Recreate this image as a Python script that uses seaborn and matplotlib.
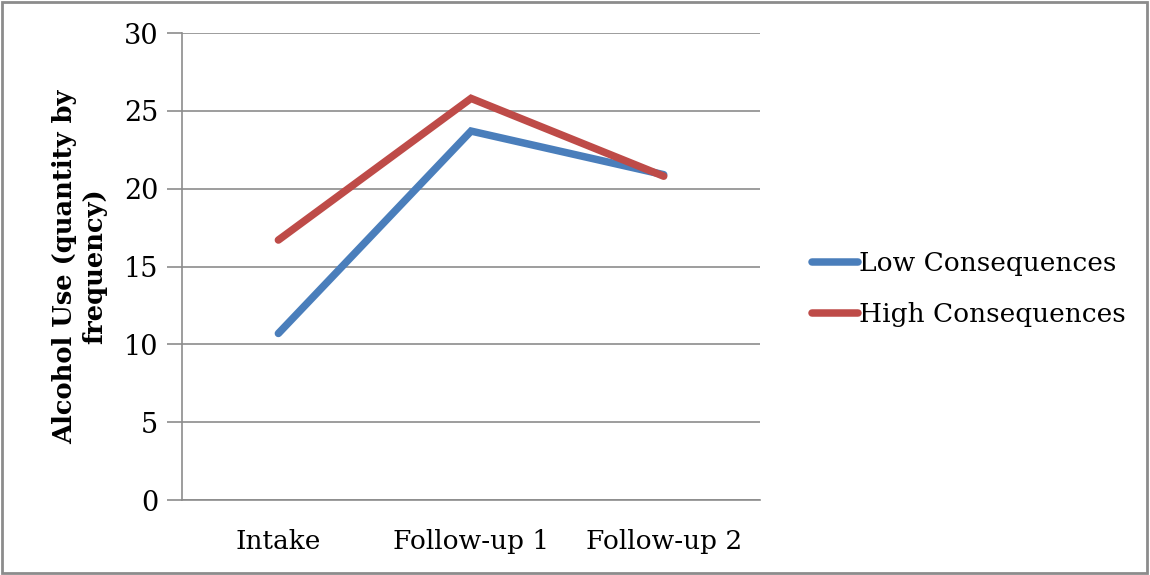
import matplotlib
matplotlib.use("Agg")
import matplotlib.pyplot as plt
import seaborn as sns
import pandas as pd
from matplotlib.patches import Rectangle

# Chart data
timepoints = ["Intake", "Follow-up 1", "Follow-up 2"]
low_consequences = [10.7, 23.7, 20.9]
high_consequences = [16.7, 25.8, 20.8]
series_names = ["Low Consequences", "High Consequences"]
y_ticks = [0, 5, 10, 15, 20, 25, 30]

df = pd.DataFrame({
    "Timepoint": timepoints * 2,
    "Alcohol": low_consequences + high_consequences,
    "Group": [series_names[0]] * 3 + [series_names[1]] * 3,
})

sns.set_theme(style="white")
plt.rcParams["font.family"] = ["DejaVu Serif"]
plt.rcParams["text.color"] = "black"
plt.rcParams["xtick.color"] = "black"
plt.rcParams["ytick.color"] = "black"
plt.rcParams["axes.labelcolor"] = "black"

fig = plt.figure(figsize=(11.5, 5.75), dpi=100)
ax = fig.add_axes([0.1583, 0.1304, 0.5026, 0.8122])

palette = {series_names[0]: "#4A7EBB", series_names[1]: "#BE4B48"}
sns.lineplot(data=df, x="Timepoint", y="Alcohol", hue="Group", palette=palette,
             linewidth=5.4, ax=ax, sort=False, legend=True)
for ln in ax.get_lines():
    ln.set_solid_capstyle("round")
    ln.set_solid_joinstyle("miter")

grid_c = "#8C8C8C"
ax.set_ylim(0, 30)
ax.set_xlim(-0.5, 2.5)
ax.set_yticks(y_ticks)
ax.set_yticklabels([str(v) for v in y_ticks], fontsize=19.5)
ax.set_xticks(range(len(timepoints)))
ax.set_xticklabels(timepoints, fontsize=19)
ax.set_xticks([-0.5, 0.5, 1.5, 2.5], minor=True)
ax.tick_params(axis="x", which="major", length=0, pad=21)
ax.tick_params(axis="x", which="minor", length=9, width=1.2, color=grid_c, direction="out")
ax.tick_params(axis="y", which="major", length=11, width=1.2, color=grid_c, direction="out", pad=6, left=True)
ax.yaxis.grid(True, color=grid_c, linewidth=1.2)
ax.set_axisbelow(True)
for side in ["top", "right"]:
    ax.spines[side].set_visible(False)
for side in ["left", "bottom"]:
    ax.spines[side].set_color(grid_c)
    ax.spines[side].set_linewidth(1.2)

ax.set_xlabel("")
ax.set_ylabel("Alcohol Use (quantity by\nfrequency)", fontsize=18.5, fontweight="bold",
              linespacing=1.25, labelpad=12)

handles, labels = ax.get_legend_handles_labels()
ax.legend(handles, labels, loc="center left", bbox_to_anchor=(0.685, 0.497), bbox_transform=fig.transFigure,
          frameon=False, fontsize=19, handlelength=1.75, handletextpad=0.05, labelspacing=1.0)

fig.add_artist(Rectangle((0.002, 0.003), 0.995, 0.994, transform=fig.transFigure,
                         fill=False, edgecolor="#8C8C8C", linewidth=2))

fig.savefig("out.png", dpi=100)
